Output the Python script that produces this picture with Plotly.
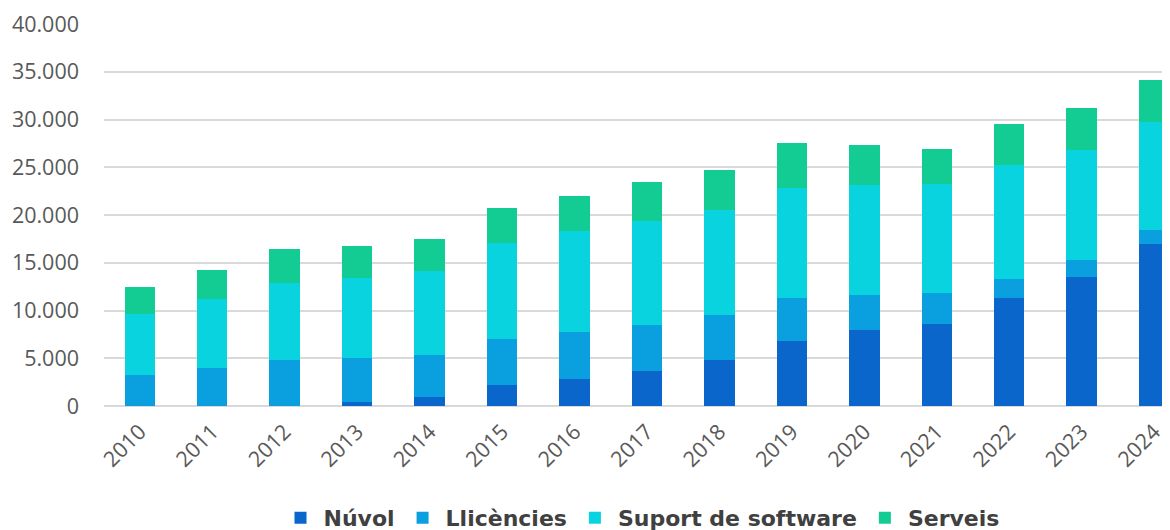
import plotly.graph_objects as go

years = [str(y) for y in range(2010, 2025)]

nuvol = [0, 0, 0, 450, 900, 2200, 2800, 3650, 4850, 6850, 7950, 8600, 11300, 13500, 16950]
llicencies = [3200, 4000, 4800, 4550, 4400, 4800, 4950, 4850, 4700, 4500, 3650, 3250, 2000, 1800, 1450]
suport = [6450, 7200, 8100, 8400, 8800, 10050, 10550, 10900, 11000, 11500, 11550, 11400, 11950, 11500, 11300]
serveis = [2850, 3000, 3500, 3350, 3400, 3700, 3700, 4050, 4150, 4700, 4200, 3650, 4300, 4400, 4400]

series = [
    ("Núvol", nuvol, "#0a66cb"),
    ("Llicències", llicencies, "#0a9fdf"),
    ("Suport de software", suport, "#08d3de"),
    ("Serveis", serveis, "#12cc93"),
]

fig = go.Figure()
for name, vals, color in series:
    fig.add_trace(go.Bar(
        x=years, y=vals, name=name,
        marker=dict(color=color, line=dict(width=0)),
        hoverinfo="x+y+name"))

tick_font = dict(family="Open Sans", size=21.5, color="#595959")

# la pagina tiene 8px de margen en el body: se descuentan aqui
fig.update_layout(
    barmode="stack",
    bargap=0.58,
    width=1170, height=522,
    margin=dict(l=96, r=0, t=16, b=124, autoexpand=False),
    paper_bgcolor="white", plot_bgcolor="white",
    separators=",.",
    showlegend=True,
    legend=dict(orientation="h", x=0.5, xanchor="center", y=-0.293, yanchor="middle",
                font=dict(family="DejaVu Sans", size=22, color="#404040", weight="bold"),
                traceorder="normal", itemwidth=36),
    xaxis=dict(type="category", range=[-0.494, 14.33], tickangle=-45,
               tickfont=tick_font, showgrid=False, ticks="", showline=False,
               automargin=False, ticklabelstandoff=8),
    yaxis=dict(range=[0, 40000], dtick=5000, tickformat=",.0f",
               tickfont=tick_font, gridcolor="#d9d9d9", gridwidth=2,
               zeroline=True, zerolinecolor="#d9d9d9", zerolinewidth=2,
               ticks="", ticklabelstandoff=24, automargin=False),
)

fig.write_html("out.html")
